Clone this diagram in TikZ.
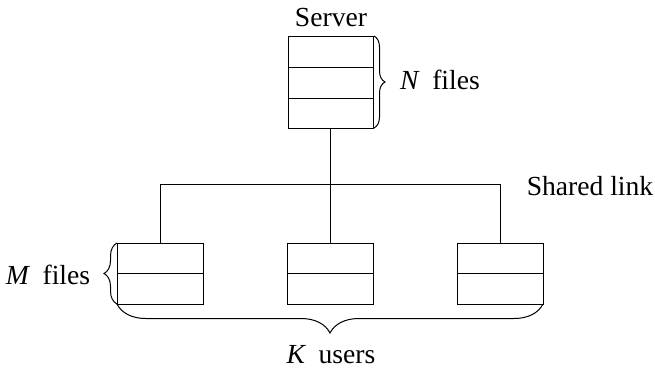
\documentclass[tikz,border=0pt]{standalone}
\usepackage{fontspec}
\setmainfont{Liberation Serif}
\usetikzlibrary{decorations.pathreplacing}
\newcommand{\mvar}[1]{\textit{#1}\hspace{0.45em}}
\begin{document}
\begin{tikzpicture}[x=0.5pt,y=-0.5pt,line width=0.5pt,
  every node/.style={font=\fontsize{13.8}{16}\selectfont},
  srvbox/.style={draw,rectangle,minimum width=42.5pt,minimum height=46pt,inner sep=0pt},
  usrbox/.style={draw,rectangle,minimum width=43pt,minimum height=30.5pt,inner sep=0pt},
  lbl/.style={inner sep=0pt,anchor=center},
  brc/.style={decorate,decoration={brace,amplitude=#1}}]
\useasboundingbox (0,0) rectangle (655,372);
% server
\node[srvbox] (srv) at (330.5,82) {};
\draw (srv.west |- 0,67) -- (srv.east |- 0,67);
\draw (srv.west |- 0,98) -- (srv.east |- 0,98);
\node[lbl] (srvlbl) at (331,17) {Server};
% users
\node[usrbox] (u1) at (160,273.5) {};
\node[usrbox] (u2) at (330.5,273.5) {};
\node[usrbox] (u3) at (500.5,273.5) {};
\foreach \n in {u1,u2,u3} \draw (\n.west) -- (\n.east);
% link
\coordinate (bus) at (330.5,184);
\draw (srv.south) -- (bus);
\draw (u1.north) |- (bus) -| (u3.north);
\draw (bus) -- (u2.north);
\node[lbl] (shared) at (590,186) {Shared link};
% braces
\draw[brc=5.5pt] (374,36) -- (374,128);
\node[lbl] (nf) at (440,80) {\mvar{N}files};
\draw[brc=6.5pt] (117,304) -- (117,243);
\node[lbl] (mf) at (48,275) {\mvar{M}files};
\draw[brc=14.5pt] (543,304) -- (117,304);
\node[lbl] (ku) at (331,355) {\mvar{K}users};
\end{tikzpicture}
\end{document}
